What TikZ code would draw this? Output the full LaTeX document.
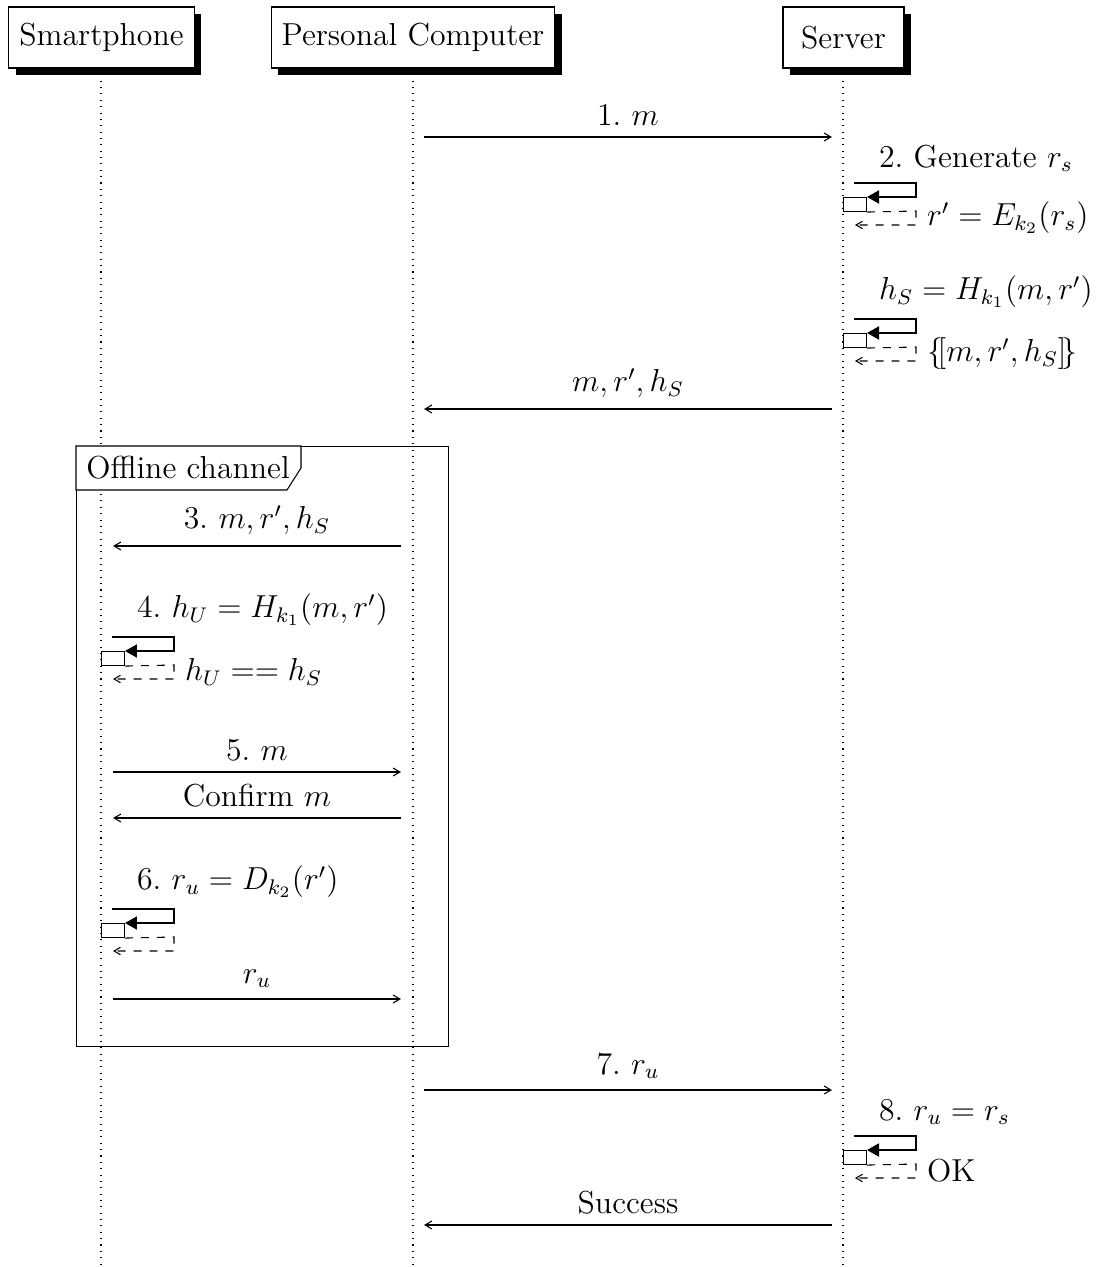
\documentclass[12pt,tikz,border=0pt]{standalone}
\usetikzlibrary{arrows.meta,shadows,backgrounds}
\def\u{0.3774pt}
% message: from x, to x, y, label, name
\newcommand{\sdmsg}[5]{%
  \coordinate (#5s) at (#1,#3);
  \coordinate (#5e) at (#2,#3);
  \draw[msg] (#5s) -- node[above] {#4} (#5e);
}
% self call: lifeline x, top y, name, label, return label
\newcommand{\sdcall}[5]{%
  \node[actbox] (#3) at (#1,#2+14) {};
  \coordinate (#3a) at (#1+11,#2);
  \coordinate (#3b) at (#1+73,#2);
  \coordinate (#3c) at (#1+73,#2+14);
  \coordinate (#3d) at (#1+73,#2+28);
  \coordinate (#3e) at (#1+73,#2+42);
  \coordinate (#3f) at (#1+12,#2+42);
  \draw[callline] (#3a) -- (#3b) -- (#3c) -- (#3.north east);
  \node[anchor=south west] (#3lbl) at (#1+25,#2) {#4};
  \draw[ret] (#3.south east) -- (#3d) -- node[midway,right] {#5} (#3e) -- (#3f);
}
\begin{document}
\begin{tikzpicture}[x=0.3774pt,y=-0.3774pt,
  inst/.style={draw, fill=white, minimum height=61*\u, minimum width=121*\u, drop shadow={opacity=1,fill=black}},
  life/.style={dash pattern=on 0.4pt off 2pt},
  msg/.style={-{Straight Barb[angle=60:3pt]}},
  callline/.style={-{Triangle[length=4.5pt,width=5pt]}},
  ret/.style={dashed,-{Straight Barb[angle=60:2.8pt]}},
  actbox/.style={draw, fill=white, minimum width=23*\u, minimum height=14*\u, inner sep=0pt, anchor=north west}
]
\useasboundingbox (0,0) rectangle (1099,1267);

% headers
\node[inst] (sp) at (101.5,37.5) {Smartphone};
\node[inst] (pc) at (413,37.5) {Personal Computer};
\node[inst] (sv) at (843.5,37.5) {Server};

\coordinate (spend) at (101,1267);
\coordinate (pcend) at (413,1267);
\coordinate (svend) at (843,1267);
\begin{pgfonlayer}{background}
  \draw[life] (101,68) -- (spend);
  \draw[life] (413,68) -- (pcend);
  \draw[life] (843,68) -- (svend);
\end{pgfonlayer}

% messages and calls
\sdmsg{424}{832}{137}{1.~$m$}{m1}
\sdcall{843}{183}{c2}{2.~Generate $r_s$}{$r' = E_{k_2}(r_s)$}
\sdcall{843}{319}{c2b}{$h_S = H_{k_1}(m, r')$}{$\{\![m, r', h_S]\!\}$}
\sdmsg{832}{424}{409}{$m, r', h_S$}{m2}

% offline channel frame
\node[draw, anchor=north west, minimum width=372*\u, minimum height=600*\u, inner sep=0pt] (frame) at (76,446) {};
\coordinate (fl1) at (301,446);
\coordinate (fl2) at (301,468);
\coordinate (fl3) at (287,490);
\coordinate (fl4) at (76,490);
\draw[fill=white] (frame.north west) -- (fl1) -- (fl2) -- (fl3) -- (fl4) -- cycle;
\node (frametitle) at (188,468) {Offline channel};

\sdmsg{401}{113}{546}{3.~$m, r', h_S$}{m3}
\sdcall{101}{637}{c4}{4.~$h_U = H_{k_1}(m, r')$}{$h_U == h_S$}
\sdmsg{113}{401}{772}{5.~$m$}{m5}
\sdmsg{401}{113}{818}{Confirm $m$}{m5b}
\sdcall{101}{909}{c6}{6.~$r_u = D_{k_2}(r')$}{}
\sdmsg{113}{401}{999}{$r_u$}{m6}

\sdmsg{424}{832}{1090}{7.~$r_u$}{m7}
\sdcall{843}{1136}{c8}{8.~$r_u = r_s$}{OK}
\sdmsg{832}{424}{1225}{Success}{m8}
\end{tikzpicture}
\end{document}
